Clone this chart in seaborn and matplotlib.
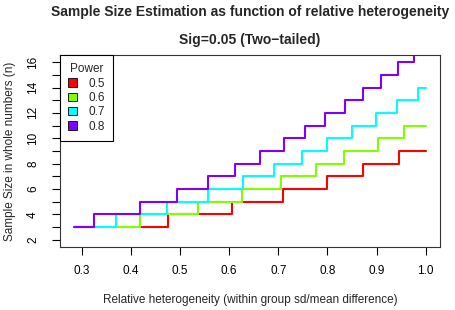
import pandas as pd
import seaborn as sns
import matplotlib.pyplot as plt
import matplotlib.patches as mpatch

powers = ["0.5", "0.6", "0.7", "0.8"]
colors = ["#FF0000", "#80FF00", "#00FFFF", "#8000FF"]

# heterogeneity where the sample size steps up (last point is the end of the line)
het_05 = [0.284, 0.475, 0.605, 0.709, 0.799, 0.872, 0.946, 1.0]
n_05 = [3, 4, 5, 6, 7, 8, 9, 9]

het_06 = [0.284, 0.418, 0.536, 0.627, 0.706, 0.776, 0.834, 0.902, 0.956, 1.0]
n_06 = [3, 4, 5, 6, 7, 8, 9, 10, 11, 11]

het_07 = [0.284, 0.370, 0.474, 0.557, 0.628, 0.692, 0.749, 0.800, 0.851,
          0.898, 0.942, 0.985, 1.0]
n_07 = [3, 4, 5, 6, 7, 8, 9, 10, 11, 12, 13, 14, 14]

het_08 = [0.284, 0.325, 0.419, 0.493, 0.557, 0.612, 0.663, 0.711, 0.755,
          0.796, 0.835, 0.873, 0.909, 0.944, 0.976, 1.0]
n_08 = [3, 4, 5, 6, 7, 8, 9, 10, 11, 12, 13, 14, 15, 16, 17, 17]

x_ticks = [0.3, 0.4, 0.5, 0.6, 0.7, 0.8, 0.9, 1.0]
y_ticks = list(range(2, 17))

frames = []
for p, h, n in zip(powers, [het_05, het_06, het_07, het_08], [n_05, n_06, n_07, n_08]):
    frames.append(pd.DataFrame({"het": h, "n": n, "power": p}))
df = pd.concat(frames, ignore_index=True)

sns.set_style("ticks")
plt.rcParams["font.family"] = ["Liberation Sans", "DejaVu Sans"]

fig = plt.figure(figsize=(4.56, 3.10), dpi=100)
ax = fig.add_axes([60 / 456, 1 - 247 / 310, 380 / 456, 192 / 310])

sns.lineplot(
    data=df, x="het", y="n", hue="power", hue_order=powers, palette=colors,
    drawstyle="steps-post", estimator=None, sort=False, legend=False,
    linewidth=1.5, ax=ax,
)

ax.set_xlim(0.256, 1.029)
ax.set_ylim(1.44, 16.56)
ax.set_xticks(x_ticks)
ax.set_xticklabels([f"{v:.1f}" for v in x_ticks])
ax.set_yticks(y_ticks)
ax.set_yticklabels([str(v) if v % 2 == 0 else "" for v in y_ticks],
                   rotation=90, va="center")
ax.tick_params(direction="out", length=6, width=0.8, color="black",
               labelsize=8.5, labelcolor="black")
ax.tick_params(axis="x", pad=7)
ax.tick_params(axis="y", pad=9)
for s in ax.spines.values():
    s.set_color("#333333")
    s.set_linewidth(0.8)

ax.set_xlabel("Relative heterogeneity (within group sd/mean difference)",
              fontsize=8.5, labelpad=12)
ax.set_ylabel("Sample Size in whole numbers (n)", fontsize=8.5, labelpad=8)

fig.text(250 / 456, 1 - 12 / 310,
         "Sample Size Estimation as function of relative heterogeneity",
         ha="center", va="center", fontsize=10, fontweight="bold")
fig.text(250 / 456, 1 - 40 / 310, "Sig=0.05 (Two\u2212tailed)",
         ha="center", va="center", fontsize=10, fontweight="bold")

patches = [mpatch.Patch(facecolor=c, edgecolor="black", linewidth=0.6, label=p)
           for p, c in zip(powers, colors)]
leg = ax.legend(
    handles=patches, title="Power", loc="upper left", bbox_to_anchor=(0, 1),
    borderaxespad=0, frameon=True, fancybox=False, edgecolor="black",
    framealpha=1, fontsize=8.5, title_fontsize=8.5, handlelength=0.7,
    handleheight=0.7, handletextpad=1.0, labelspacing=0.2, borderpad=0.7,
)
leg.get_frame().set_linewidth(0.8)

fig.savefig("out.png", dpi=100)
